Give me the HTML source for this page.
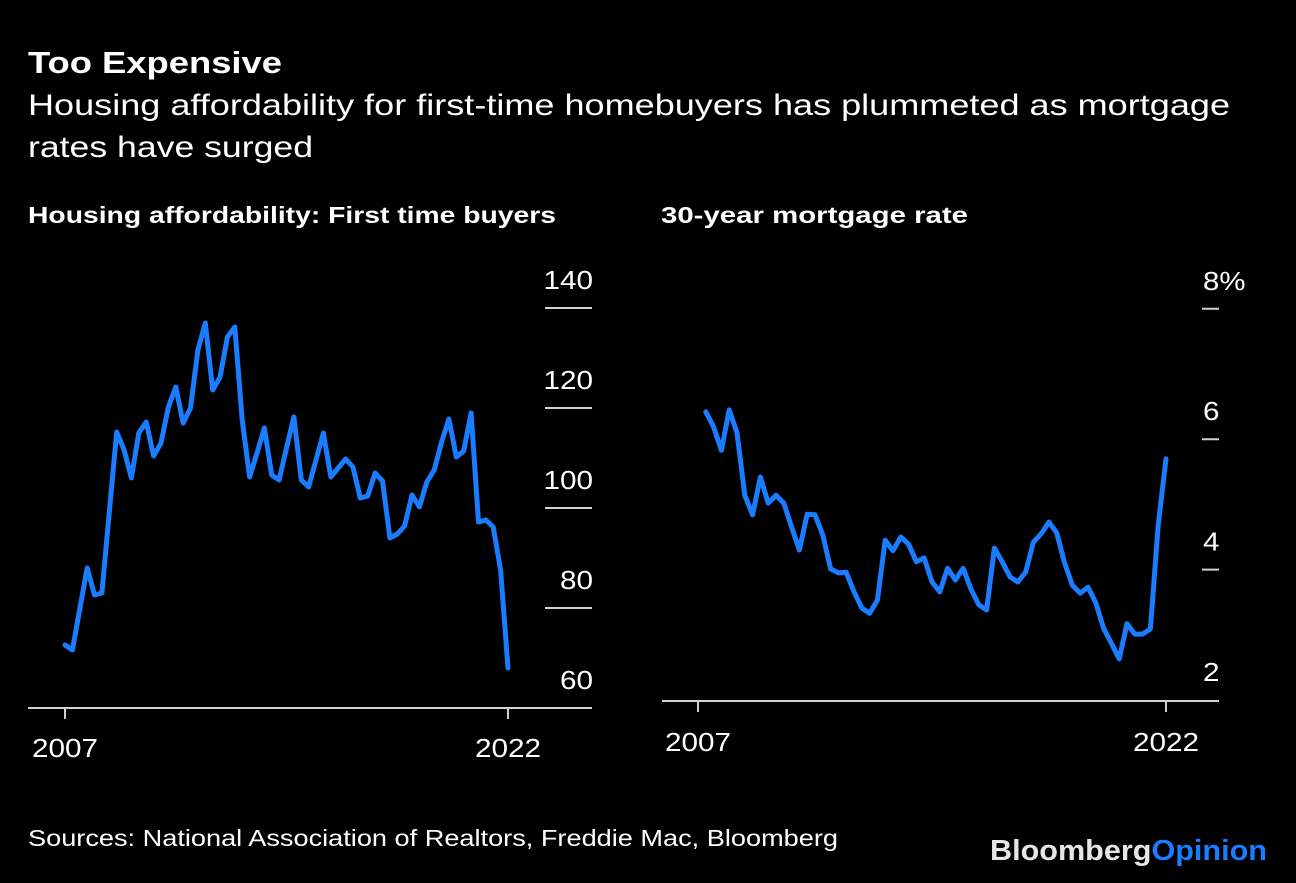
<!DOCTYPE html>
<html><head><meta charset="utf-8"><style>
body{margin:0;background:#000;width:1296px;height:878px;overflow:hidden;font-family:"Liberation Sans",sans-serif;color:#fff}
svg text{font-family:"Liberation Sans",sans-serif}
</style></head><body>
<svg width="1296" height="878">
<rect width="1296" height="878" fill="#000"/>
<text x="28" y="73" font-size="31" font-weight="bold" fill="#fff" textLength="254" lengthAdjust="spacingAndGlyphs">Too Expensive</text>
<text x="28" y="115" font-size="30" fill="#fff" textLength="1202" lengthAdjust="spacingAndGlyphs">Housing affordability for first-time homebuyers has plummeted as mortgage</text>
<text x="28" y="157" font-size="30" fill="#fff" textLength="285" lengthAdjust="spacingAndGlyphs">rates have surged</text>
<text x="28" y="223" font-size="23" font-weight="bold" fill="#fff" textLength="528" lengthAdjust="spacingAndGlyphs">Housing affordability: First time buyers</text>
<text x="661" y="223" font-size="23" font-weight="bold" fill="#fff" textLength="307" lengthAdjust="spacingAndGlyphs">30-year mortgage rate</text>
<g id="left"></g>
<g id="right"></g>
<text x="28" y="846" font-size="23" fill="#fff" textLength="810" lengthAdjust="spacingAndGlyphs">Sources: National Association of Realtors, Freddie Mac, Bloomberg</text>
<text x="990" y="860" font-size="29" font-weight="bold" textLength="277" lengthAdjust="spacingAndGlyphs"><tspan fill="#e6e6e6">Bloomberg</tspan><tspan fill="#1a7cff">Opinion</tspan></text>
</svg>
<script>
const affordValues=[72.6,71.6,79.8,88,82.6,83,99.2,115.2,111.6,106,115,117.2,110.4,113,120.2,124.2,117,120,131.6,137,123.6,126.2,134.2,136.2,117.6,106.2,111,116,106.6,105.6,112,118.2,105.6,104.2,109.6,115,106.2,108,109.8,108.2,102,102.4,107,105.4,94,94.8,96.4,102.6,100.2,105.2,107.6,113.2,117.8,110.2,111.4,119,97.2,97.6,96.2,87.6,68];
const affordTicks=[60,80,100,120,140];
const rateValues=[6.42,6.19,5.83,6.45,6.10,5.14,4.84,5.42,5.02,5.14,5.02,4.65,4.30,4.85,4.84,4.53,4.01,3.95,3.96,3.66,3.41,3.33,3.53,4.45,4.29,4.50,4.39,4.12,4.18,3.81,3.66,4.02,3.84,4.02,3.70,3.46,3.38,4.33,4.12,3.89,3.81,3.96,4.42,4.55,4.73,4.56,4.10,3.76,3.64,3.73,3.49,3.10,2.87,2.63,3.17,3.01,3.01,3.09,4.68,5.70];
const rateTicks=[2,4,6,8];
const rateTickLabels=["2","4","6","8%"];
const xYears=["2007","2022"];
const NS="http://www.w3.org/2000/svg";
function mk(tag,attrs,parent){const e=document.createElementNS(NS,tag);for(const k in attrs)e.setAttribute(k,attrs[k]);parent.appendChild(e);return e;}
function tl(s){let w=0;for(const c of s)w+=(c==='%'?26:16.5);return w;}
// left
const L=document.getElementById('left');
const lx=t=>65+(t-2007)*(508-65)/15;
const ly=v=>708-(v-60)*5;
const base1=mk('line',{x1:28,x2:592,y1:708,y2:708,stroke:'#d0d0d0','stroke-width':2},L);


affordTicks.forEach(t=>{
  if(t!==60){const g=mk('line',{x1:545,x2:592,y1:ly(t),y2:ly(t),stroke:'#d0d0d0','stroke-width':2},L);
  
  }
  const s=String(t);
  const tx=mk('text',{x:593-tl(s),y:ly(t)-19,'font-size':26,fill:'#fff',textLength:tl(s),lengthAdjust:'spacingAndGlyphs'},L);tx.textContent=s;
  
  
});
xYears.forEach((y,i)=>{const x=lx(+y);
  const tk=mk('line',{x1:x,x2:x,y1:708,y2:719,stroke:'#d0d0d0','stroke-width':2},L);
  
  
  const tx=mk('text',{x:x-tl(y)/2,y:757,'font-size':26,fill:'#fff',textLength:tl(y),lengthAdjust:'spacingAndGlyphs'},L);tx.textContent=y;
  
  
});
const lp=affordValues.map((v,i)=>lx(2007+i/4).toFixed(1)+','+ly(v).toFixed(1)).join(' ');
const l1=mk('polyline',{points:lp,fill:'none',stroke:'#1a7cff','stroke-width':5,'stroke-linejoin':'round','stroke-linecap':'round'},L);


// right
const R=document.getElementById('right');
const rx=t=>698+(t-2007)*(1166-698)/15;
const ry=v=>700-(v-2)*65.2;
const base2=mk('line',{x1:662,x2:1219,y1:701,y2:701,stroke:'#d0d0d0','stroke-width':2},R);


rateTicks.forEach((t,i)=>{
  if(t!==2){const g=mk('line',{x1:1202,x2:1219,y1:ry(t),y2:ry(t),stroke:'#d0d0d0','stroke-width':2},R);
  
  }
  const s=rateTickLabels[i];
  const tx=mk('text',{x:1203,y:ry(t)-19,'font-size':26,fill:'#fff',textLength:tl(s),lengthAdjust:'spacingAndGlyphs'},R);tx.textContent=s;
  
  
});
xYears.forEach(y=>{const x=rx(+y);
  const tk=mk('line',{x1:x,x2:x,y1:701,y2:712,stroke:'#d0d0d0','stroke-width':2},R);
  
  
  const tx=mk('text',{x:x-tl(y)/2,y:751,'font-size':26,fill:'#fff',textLength:tl(y),lengthAdjust:'spacingAndGlyphs'},R);tx.textContent=y;
  
  
});
const rp=rateValues.map((v,i)=>rx(2007+(i+1)/4).toFixed(1)+','+ry(v).toFixed(1)).join(' ');
const l2=mk('polyline',{points:rp,fill:'none',stroke:'#1a7cff','stroke-width':5,'stroke-linejoin':'round','stroke-linecap':'round'},R);


</script>
</body></html>
